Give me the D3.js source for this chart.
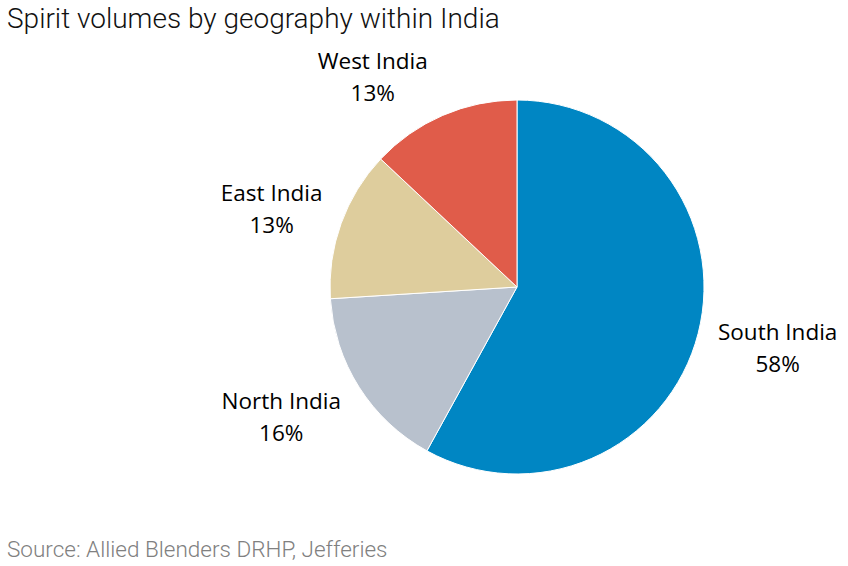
<!DOCTYPE html>
<html>
<head>
<meta charset="utf-8">
<script src="https://cdn.jsdelivr.net/npm/d3@7"></script>
<style>
    body { margin: 0; background: #fff; }
    svg { display: block; }
</style>
</head>
<body>
<div id="chart"></div>
<script>
// chart data
const regions = ['South India', 'North India', 'East India', 'West India'];
const shares = [58, 16, 13, 13];
const colors = ['#0086C3', '#B8C1CD', '#DECD9D', '#E05C4A'];
// small label nudges away from the arc centroid (layout only)
const nudges = [[4, -3], [-12, -10], [4, 14], [-39, 35]];

const width = 848, height = 566;
const cx = 517, cy = 287, radius = 187;

let svg = d3.select('#chart').append('svg')
    .attr('width', width)
    .attr('height', height);

// title
svg.append('text')
    .attr('x', 7)
    .attr('y', 28)
    .style('font-family', 'Roboto')
    .style('font-weight', 300)
    .style('font-size', '28px')
    .attr('fill', '#111')
    .text('Spirit volumes by geography within India');

// source
svg.append('text')
    .attr('x', 7)
    .attr('y', 557)
    .style('font-family', 'Roboto')
    .style('font-weight', 300)
    .style('font-size', '22.5px')
    .attr('fill', '#808080')
    .text('Source: Allied Blenders DRHP, Jefferies');

let pie = d3.pie().sort(null).value(d => d.value);
let data = pie(regions.map((r, i) => ({ name: r, value: shares[i], color: colors[i], nudge: nudges[i] })));

let arc = d3.arc().innerRadius(0).outerRadius(radius);
let labelArc = d3.arc().innerRadius(265).outerRadius(265);

let g = svg.append('g').attr('transform', `translate(${cx},${cy})`);

g.selectAll('path')
    .data(data)
    .join('path')
    .attr('d', arc)
    .attr('fill', d => d.data.color)
    .attr('stroke', '#fff')
    .attr('stroke-width', 1);

// labels: name on top, percent below
let labels = g.selectAll('.lbl')
    .data(data)
    .join('text')
    .classed('lbl', true)
    .attr('text-anchor', 'middle')
    .style('font-family', 'Open Sans')
    .style('font-size', '22.5px')
    .attr('fill', '#000')
    .attr('transform', d => {
        let c = labelArc.centroid(d);
        return `translate(${c[0] + d.data.nudge[0]},${c[1] + d.data.nudge[1]})`;
    });

labels.append('tspan')
    .attr('x', 0)
    .attr('y', -10)
    .text(d => d.data.name);
labels.append('tspan')
    .attr('x', 0)
    .attr('y', 22)
    .text(d => d.data.value + '%');
</script>
</body>
</html>
